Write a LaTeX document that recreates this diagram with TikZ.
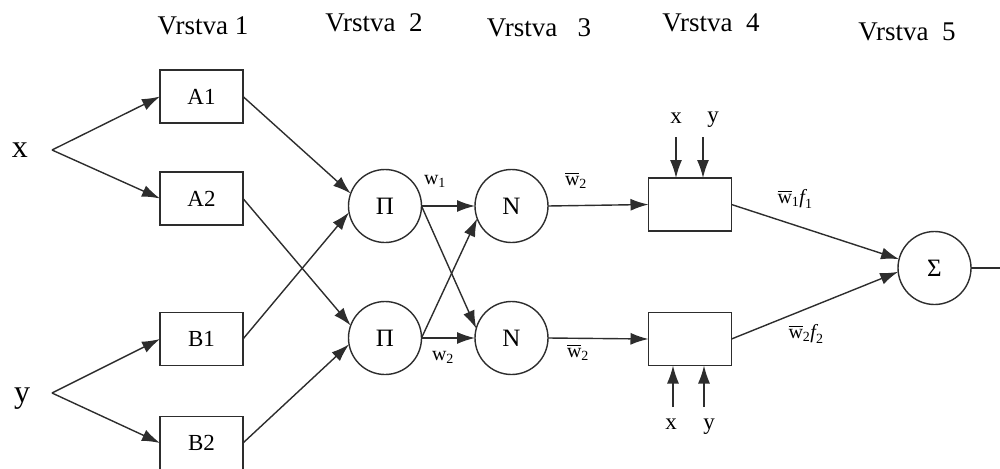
\documentclass[tikz,border=0pt]{standalone}
\usepackage{fontspec}
\usepackage{amsmath}
\setmainfont{Liberation Serif}
\usetikzlibrary{arrows.meta}
\definecolor{ln}{RGB}{45,45,45}
\begin{document}
\begin{tikzpicture}[x=1pt,y=-1pt,
  every node/.style={inner sep=0pt, outer sep=0pt},
  blk/.style={draw=ln, line width=1.4pt, minimum width=83pt, minimum height=53pt, font=\fontsize{23}{26}\selectfont},
  neu/.style={draw=ln, line width=1.4pt, circle, minimum size=73pt, font=\fontsize{25}{28}\selectfont},
  head/.style={font=\fontsize{27}{30}\selectfont},
  lbl/.style={font=\fontsize{20}{22}\selectfont},
  inp/.style={font=\fontsize{32}{34}\selectfont},
  sml/.style={font=\fontsize{23}{24}\selectfont},
  wire/.style={draw=ln, line width=1.4pt},
  arr/.style={wire, -{Latex[length=18pt,width=12pt]}},
]
\useasboundingbox (0,0) rectangle (1000,468);

% layer titles
\node[head] (h1) at (203,26) {Vrstva 1};
\node[head] (h2) at (374,23) {Vrstva\ \ 2};
\node[head] (h3) at (539,28) {Vrstva\ \ \ 3};
\node[head] (h4) at (711,23) {Vrstva\ \ 4};
\node[head] (h5) at (907,32) {Vrstva\ \ 5};

% inputs
\node[inp] (x) at (20,150) {x};
\node[inp] (y) at (22,399) {y};
\coordinate (xs) at (52,150);
\coordinate (ys) at (52,393);

% layer 1
\node[blk] (A1) at (201.5,96.5) {A1};
\node[blk] (A2) at (201.5,198.5) {A2};
\node[blk] (B1) at (201.5,339) {B1};
\node[blk] (B2) at (201.5,443) {B2};

% layer 2 and 3
\node[neu] (P1) at (385,206) {Π};
\node[neu] (P2) at (385,338) {Π};
\node[neu] (N1) at (511.5,206) {N};
\node[neu] (N2) at (511.5,338) {N};

% layer 4
\node[blk] (C1) at (690,204.5) {};
\node[blk] (C2) at (690,339) {};

% layer 5
\node[neu] (S) at (934.5,268) {Σ};
\coordinate (out) at (1000,268);

% input fan-out
\draw[arr] (xs) -- (A1.west);
\draw[arr] (xs) -- (A2.west);
\draw[arr] (ys) -- (B1.west);
\draw[arr] (ys) -- (B2.west);

% layer 1 -> layer 2
\draw[arr] (A1.east) -- (P1.160);
\draw[arr] (B1.east) -- (P1.190);
\draw[arr] (A2.east) -- (P2.160);
\draw[arr] (B2.east) -- (P2.190);

% layer 2 -> layer 3
\draw[arr] (P1.east) -- (N1.west);
\draw[arr] (P2.east) -- (N2.west);
\draw[arr] (P1.east) -- (N2.165);
\draw[arr] (P2.east) -- (N1.200);
\node[lbl] (w1) at (435,181) {w$_{\text{1}}$};
\node[lbl] (w2) at (443,357) {w$_{\text{2}}$};

% layer 3 -> layer 4
\draw[arr] (N1.east) -- (C1.west);
\draw[arr] (N2.east) -- (C2.west);
\node[lbl] (nw1) at (576,180) {$\overline{\text{w}}_{\text{2}}$};
\node[lbl] (nw2) at (578,352) {$\overline{\text{w}}_{\text{2}}$};

% consequent inputs
\node[sml] (cx1) at (676,118) {x};
\node[sml] (cy1) at (713,120) {y};
\node[sml] (cx2) at (671,424) {x};
\node[sml] (cy2) at (709,427) {y};
\coordinate (cx1s) at (676,137);
\coordinate (cy1s) at (703,137);
\coordinate (cx2s) at (673,407);
\coordinate (cy2s) at (704,407);
\draw[arr] (cx1s) -- (cx1s |- C1.north);
\draw[arr] (cy1s) -- (cy1s |- C1.north);
\draw[arr] (cx2s) -- (cx2s |- C2.south);
\draw[arr] (cy2s) -- (cy2s |- C2.south);

% layer 4 -> layer 5
\draw[arr] (C1.east) -- (S.166);
\draw[arr] (C2.east) -- (S.186);
\node[lbl] (f1) at (795,199) {$\overline{\text{w}}_{\text{1}}\textit{f}_{\text{1}}$};
\node[lbl] (f2) at (806,334) {$\overline{\text{w}}_{\text{2}}\textit{f}_{\text{2}}$};

% output
\draw[wire] (S.east) -- (out);
\end{tikzpicture}
\end{document}
